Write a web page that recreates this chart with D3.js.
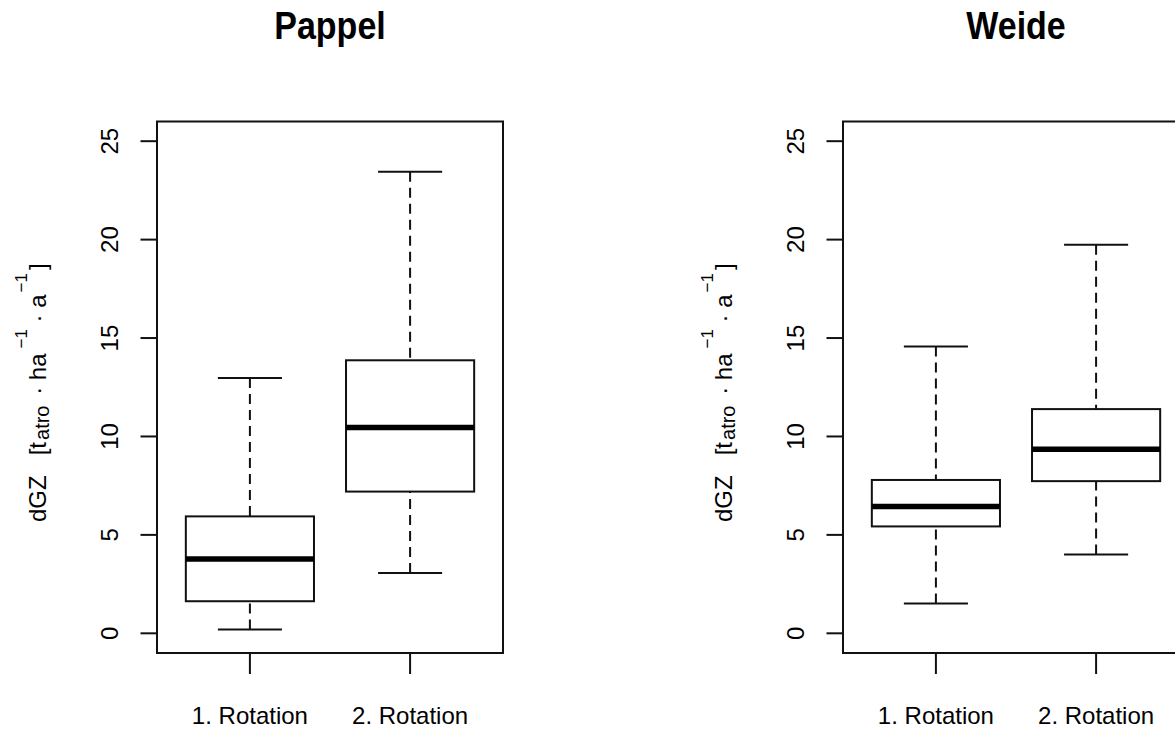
<!DOCTYPE html>
<meta charset="utf-8">
<style>
body { margin: 0; background: #fff; }
svg { display: block; }
text { font-family: "Liberation Sans", Arial, sans-serif; fill: #000; }
.title { font-size: 34px; font-weight: bold; }
.tick { font-size: 24px; }
.lab { font-size: 24px; white-space: pre; }
</style>
<body></body>
<script src="https://cdnjs.cloudflare.com/ajax/libs/d3/7.8.5/d3.min.js"></script>
<script>

var categories = ["1. Rotation", "2. Rotation"];
var titles = ["Pappel", "Weide"];
var yTicks = [0, 5, 10, 15, 20, 25];

// lower whisker, lower hinge, median, upper hinge, upper whisker
var pappel = [[0.2, 1.63, 3.78, 5.94, 12.97],
              [3.07, 7.2, 10.46, 13.87, 23.45]];
var weide  = [[1.52, 5.43, 6.44, 7.79, 14.57],
              [4.0, 7.73, 9.35, 11.39, 19.74]];

var width = 1175, height = 730;

var svg = d3.select("body").append("svg")
    .attr("width", width)
    .attr("height", height);

var panelLeft = [157, 843],
    panelW = 346,
    plotTop = 121.5,
    plotBottom = 653;

var y = d3.scaleLinear().domain([-1, 26]).range([plotBottom, plotTop]);

function drawPanel(i, stats) {
  var left = panelLeft[i];
  var x = d3.scaleLinear().domain([0.42, 2.58]).range([left, left + panelW]);
  var g = svg.append("g");

  g.append("text")
      .attr("class", "title")
      .attr("text-anchor", "middle")
      .attr("transform", "translate(" + (left + panelW / 2) + ",39) scale(1,1.12)")
      .text(titles[i]);

  // y axis ticks + rotated labels
  g.selectAll(".ytick").data(yTicks).enter().append("line")
      .attr("x1", left - 16.5).attr("x2", left)
      .attr("y1", d => y(d)).attr("y2", d => y(d))
      .attr("stroke", "#111").attr("stroke-width", 2);
  g.selectAll(".ylab").data(yTicks).enter().append("text")
      .attr("class", "tick")
      .attr("text-anchor", "middle")
      .attr("transform", d => "translate(" + (left - 39.5) + "," + y(d) + ") rotate(-90)")
      .text(d => d);

  // x axis ticks + labels
  g.selectAll(".xtick").data(categories).enter().append("line")
      .attr("x1", (d, j) => x(j + 1)).attr("x2", (d, j) => x(j + 1))
      .attr("y1", plotBottom).attr("y2", plotBottom + 21)
      .attr("stroke", "#111").attr("stroke-width", 2);
  g.selectAll(".xlab").data(categories).enter().append("text")
      .attr("class", "tick")
      .attr("text-anchor", "middle")
      .attr("x", (d, j) => x(j + 1))
      .attr("y", 724)
      .text(d => d);

  // y label, laid out from its start (bottom end)
  var lab = g.append("text")
      .attr("class", "lab")
      .attr("transform", "translate(" + (left - 111.5) + ",522) rotate(-90)");
  lab.append("tspan").text("dGZ   [t");
  lab.append("tspan").attr("font-size", 20).attr("dx", 2).attr("dy", 3.5).text("atro");
  lab.append("tspan").attr("dx", 4).attr("dy", -3.5).text(" \u00b7 ha");
  lab.append("tspan").attr("font-size", 17).attr("dx", 5).attr("dy", -19).text("\u22121");
  lab.append("tspan").attr("dy", 19).text(" \u00b7 a");
  lab.append("tspan").attr("font-size", 17).attr("dx", 2).attr("dy", -19).text("\u22121");
  lab.append("tspan").attr("dx", 3).attr("dy", 19).text("]");

  var box = g.selectAll(".box").data(stats).enter().append("g");
  var hw = 0.4, cw = 0.2;

  // whiskers drawn from the whisker end towards the hinge
  box.append("line")
      .attr("x1", (d, j) => x(j + 1)).attr("x2", (d, j) => x(j + 1))
      .attr("y1", d => y(d[0])).attr("y2", d => y(d[1]))
      .attr("stroke", "#111").attr("stroke-width", 2).attr("stroke-dasharray", "10,6");
  box.append("line")
      .attr("x1", (d, j) => x(j + 1)).attr("x2", (d, j) => x(j + 1))
      .attr("y1", d => y(d[4])).attr("y2", d => y(d[3]))
      .attr("stroke", "#111").attr("stroke-width", 2).attr("stroke-dasharray", "10,6");
  [0, 4].forEach(function(k) {
    box.append("line")
        .attr("x1", (d, j) => x(j + 1 - cw)).attr("x2", (d, j) => x(j + 1 + cw))
        .attr("y1", d => y(d[k])).attr("y2", d => y(d[k]))
        .attr("stroke", "#111").attr("stroke-width", 2);
  });
  box.append("rect")
      .attr("x", (d, j) => x(j + 1 - hw))
      .attr("width", (d, j) => x(j + 1 + hw) - x(j + 1 - hw))
      .attr("y", d => y(d[3]))
      .attr("height", d => y(d[1]) - y(d[3]))
      .attr("fill", "none").attr("stroke", "#111").attr("stroke-width", 2);
  box.append("line")
      .attr("x1", (d, j) => x(j + 1 - hw)).attr("x2", (d, j) => x(j + 1 + hw))
      .attr("y1", d => y(d[2])).attr("y2", d => y(d[2]))
      .attr("stroke", "#000").attr("stroke-width", 5.5);

  // plot frame
  g.append("rect")
      .attr("x", left).attr("y", plotTop)
      .attr("width", panelW).attr("height", plotBottom - plotTop)
      .attr("fill", "none").attr("stroke", "#111").attr("stroke-width", 2);
}

drawPanel(0, pappel);
drawPanel(1, weide);

</script>
